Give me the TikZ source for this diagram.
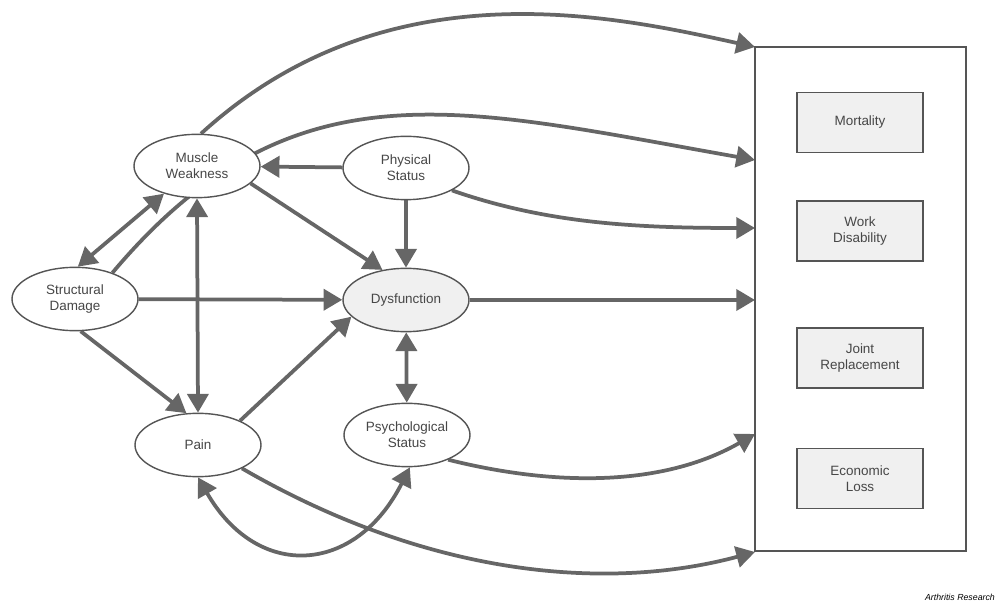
\documentclass[tikz,border=0pt]{standalone}
\usepackage{fontspec}
\setmainfont{Liberation Sans}
\usetikzlibrary{shapes.geometric,arrows.meta,backgrounds}
\definecolor{arrowgray}{HTML}{666666}
\definecolor{linegray}{HTML}{555555}
\definecolor{textgray}{HTML}{474747}
\definecolor{boxfill}{HTML}{F0F0F0}

\begin{document}
\begin{tikzpicture}[x=0.3mm,y=0.3mm,
  >={Triangle[length=16pt,width=18pt]},
  factor/.style={ellipse,draw=linegray,line width=1.2pt,fill=white,text=textgray,align=center,
    minimum width=37.8mm,minimum height=19mm,inner sep=0pt,font=\fontsize{11.5}{13.5}\selectfont},
  outcome/.style={rectangle,draw=linegray,line width=1.3pt,fill=boxfill,text=textgray,align=center,
    minimum width=37.8mm,minimum height=18mm,inner sep=0pt,font=\fontsize{11.5}{13.5}\selectfont},
  arr/.style={draw=arrowgray,line width=3.2pt,->},
  darr/.style={draw=arrowgray,line width=3.2pt,<->}]
\useasboundingbox (0,0) rectangle (1000,-603);
\node[factor] (mw) at (197,-166) {Muscle\\Weakness};
\node[factor] (ps) at (406,-168) {Physical\\Status};
\node[factor] (sd) at (75,-299) {Structural\\Damage};
\node[factor,fill=boxfill] (dys) at (406,-300) {Dysfunction};
\node[factor] (pain) at (198,-445) {Pain};
\node[factor] (psy) at (407,-435) {Psychological\\Status};
\node[draw=linegray,line width=1.1pt,minimum width=63.3mm,minimum height=151.2mm,inner sep=0pt] (outc) at (860.5,-299) {};
\node[outcome] (mort) at (860,-122.5) {Mortality};
\node[outcome] (work) at (860,-231) {Work\\Disability};
\node[outcome] (joint) at (860,-358) {Joint\\Replacement};
\node[outcome] (econ) at (860,-478.5) {Economic\\Loss};
\node[anchor=east,text=black,font=\fontsize{7.5}{9}\selectfont\itshape] (src) at (999,-597) {Arthritis Research};
\coordinate (t1) at (755,-47);
\coordinate (t2) at (755,-160);
\coordinate (t3) at (755,-228);
\coordinate (t4) at (755,-300);
\coordinate (t5) at (755,-434);
\coordinate (t6) at (755,-552);
\begin{scope}[on background layer]
\draw[arr] (mw.83) .. controls +(184,168) and +(-145,32) .. (t1);
\draw[arr] (sd.35) .. controls +(180,214) and +(-295,52) .. (t2);
\draw[arr] (ps.-26) .. controls +(95,-33) and +(-120,0) .. (t3);
\draw[arr] (dys) -- (t4);
\draw[arr] (psy.-31) .. controls +(116,-29) and +(-87,-50) .. (t5);
\draw[arr] (pain.-28) .. controls +(190,-110) and +(-145,-39) .. (t6);
\draw[arr] (ps) -- (mw);
\draw[arr] (mw.-18) -- (dys.128);
\draw[arr] (ps) -- (dys);
\draw[darr] (sd.85) -- (mw.220);
\draw[darr] (mw.south) -- (pain.north);
\draw[arr] (sd.-80) -- (pain.110);
\draw[arr] (sd) -- (dys);
\draw[arr] (pain.30) -- (dys.197);
\draw[darr] (dys) -- (psy);
\draw[darr] (pain.-90) .. controls +(60,-104) and +(-54,-107) .. (psy.-85);
\end{scope}
\end{tikzpicture}
\end{document}
